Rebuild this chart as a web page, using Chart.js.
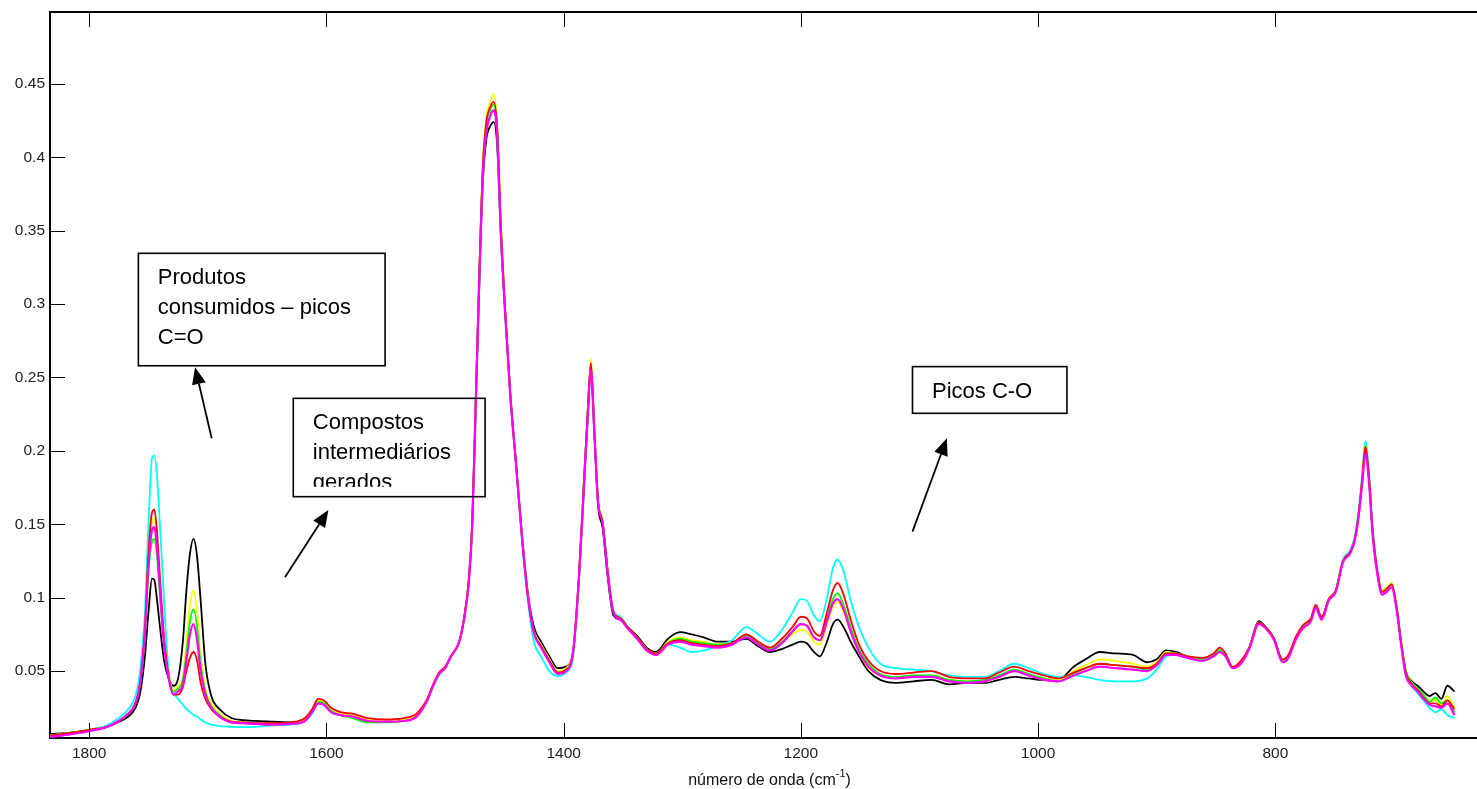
<!DOCTYPE html>
<html>
<head>
<meta charset="utf-8">
<script src="https://cdn.jsdelivr.net/npm/chart.js@4.4.1/dist/chart.umd.min.js"></script>
<style>
  html, body { margin: 0; padding: 0; background: #fff; }
  #spectra { display: block; }
</style>
</head>
<body>
<canvas id="spectra" width="1477" height="789"></canvas>
<script>
// número de onda (cm-1), eixo invertido
var wn = [
  1833, 1815, 1800, 1785, 1775, 1767, 1761, 1757, 1753, 1750, 1747, 1745, 1743, 1740, 1737, 1733, 1729, 1725, 1721, 1718, 1715, 1712, 1709, 1706, 1702, 1697, 1690, 1680,
  1670, 1660, 1645, 1630, 1618, 1612, 1607, 1602, 1596, 1588, 1578, 1565, 1550, 1535, 1524, 1515, 1510, 1505, 1500,
  1495, 1488, 1484, 1480, 1477, 1474, 1471, 1468, 1465, 1462, 1459, 1456, 1453, 1449, 1445, 1440, 1435, 1430, 1425, 1419, 1412, 1405, 1398, 1392, 1387, 1383, 1380, 1377, 1374, 1371, 1367, 1363, 1358, 1352, 1346, 1338, 1330, 1322,
  1312, 1302, 1292, 1282, 1270, 1258, 1246, 1236, 1226, 1216, 1207, 1200, 1195, 1189, 1184, 1178, 1173, 1169, 1164, 1158, 1151, 1143, 1133, 1120, 1105, 1090, 1075, 1060, 1045, 1033, 1020, 1008,
  995, 983, 970, 960, 948, 935, 920, 908, 900, 892, 884, 874, 862, 852, 847, 842, 836, 829, 822, 814, 808, 801, 794, 789, 783, 777, 770, 766, 761, 755, 749, 743, 737, 733, 730, 727, 724, 721, 718, 714, 710, 706, 702, 698, 694, 690, 685, 680, 675, 670, 665, 660, 655, 649
];

// absorbância de cada grupo de amostras
var absPreto = [
  .007, .008, .010, .012, .0155, .019, .025, .035, .06, .09, .113, .112, .1, .078, .058, .045, .04, .045, .07, .105, .13, .14, .128, .098, .055, .033, .024, .018,
  .0165, .016, .0155, .015, .017, .022, .028, .027, .022, .02, .019, .016, .016, .017, .02, .03, .04, .048, .052,
  .06, .07, .085, .11, .15, .232, .315, .385, .413, .421, .424, .408, .348, .29, .238, .19, .142, .102, .08, .07, .06, .052, .053, .064, .113, .172, .218, .253, .21, .163, .147, .115, .088, .085, .08, .074, .066, .063,
  .072, .0765, .075, .073, .07, .07, .072, .067, .063, .065, .068, .07, .069, .063, .06, .07, .082, .085, .08, .07, .06, .05, .044, .042, .043, .044, .041, .042, .042, .044, .046, .045,
  .044, .044, .053, .058, .063, .062, .061, .056, .058, .064, .063, .06, .058, .061, .064, .06, .052, .056, .066, .084, .08, .072, .057, .06, .072, .08, .085, .094, .086, .099, .105, .125, .131, .14, .155, .178, .2, .18, .145, .118, .104, .106, .109, .095, .07, .05, .043, .04, .036, .033, .035, .031, .04, .036
];
var absCiano = [
  .006, .008, .010, .013, .018, .024, .033, .05, .09, .15, .195, .197, .185, .145, .1, .05, .036, .031, .027, .024, .022, .02, .019, .017, .015, .0135, .0125, .012,
  .0118, .012, .013, .0135, .016, .021, .028, .027, .022, .02, .019, .016, .016, .017, .02, .03, .04, .047, .052,
  .06, .07, .085, .11, .15, .235, .32, .39, .418, .428, .432, .415, .35, .29, .238, .19, .138, .097, .07, .06, .05, .0465, .049, .06, .113, .175, .222, .258, .213, .167, .152, .12, .092, .087, .08, .072, .064, .062,
  .068, .066, .063, .064, .067, .071, .08, .075, .07, .078, .09, .099, .098, .088, .084, .1, .12, .126, .118, .098, .08, .066, .055, .052, .051, .05, .047, .046, .046, .05, .055, .052,
  .048, .046, .047, .046, .044, .043, .043, .045, .051, .06, .061, .059, .057, .06, .063, .06, .052, .056, .066, .083, .08, .072, .057, .06, .072, .08, .085, .094, .087, .099, .105, .126, .132, .142, .158, .182, .207, .185, .148, .12, .105, .107, .11, .096, .07, .048, .04, .035, .03, .025, .022, .024, .02, .018
];
var absVermelho = [
  .006, .008, .010, .012, .016, .021, .028, .042, .08, .13, .158, .16, .147, .11, .075, .047, .034, .034, .039, .05, .059, .063, .057, .042, .031, .024, .019, .0155,
  .015, .0145, .0145, .015, .018, .024, .031, .03, .025, .022, .021, .018, .017, .018, .021, .031, .041, .049, .053,
  .06, .07, .086, .112, .152, .237, .323, .395, .425, .434, .438, .42, .355, .292, .24, .19, .14, .1, .076, .067, .057, .049, .051, .063, .116, .177, .222, .26, .213, .166, .151, .119, .09, .086, .08, .073, .065, .062,
  .069, .071, .069, .068, .067, .069, .075, .07, .066, .072, .08, .087, .086, .077, .074, .09, .105, .11, .102, .085, .068, .057, .05, .048, .049, .05, .046, .045, .045, .049, .053, .05,
  .047, .045, .049, .052, .055, .054, .053, .052, .055, .062, .062, .06, .059, .062, .066, .062, .053, .057, .066, .083, .08, .072, .058, .061, .073, .081, .086, .095, .087, .099, .105, .125, .131, .14, .156, .179, .203, .182, .146, .118, .104, .106, .109, .095, .07, .049, .041, .037, .032, .028, .028, .026, .03, .024
];
var absAmarelo = [
  .006, .008, .010, .012, .016, .021, .028, .042, .078, .125, .152, .154, .142, .105, .072, .048, .037, .04, .046, .07, .095, .105, .09, .06, .038, .028, .021, .016,
  .015, .0145, .014, .0145, .017, .023, .03, .029, .024, .021, .02, .017, .016, .017, .02, .03, .04, .048, .052,
  .06, .07, .086, .112, .153, .238, .325, .398, .428, .437, .443, .423, .358, .293, .24, .19, .141, .1, .077, .068, .058, .05, .052, .064, .117, .178, .224, .263, .215, .167, .152, .12, .091, .086, .08, .073, .065, .062,
  .07, .073, .071, .07, .068, .069, .074, .069, .065, .07, .075, .078, .077, .07, .068, .082, .094, .097, .09, .077, .063, .052, .047, .045, .046, .047, .044, .043, .043, .046, .05, .047,
  .045, .044, .05, .054, .058, .057, .055, .053, .056, .063, .062, .06, .058, .061, .064, .061, .052, .056, .066, .083, .08, .072, .057, .06, .072, .08, .085, .094, .086, .099, .105, .125, .131, .14, .156, .179, .204, .182, .146, .119, .105, .107, .11, .096, .071, .05, .042, .038, .033, .03, .03, .027, .033, .025
];
var absVerde = [
  .006, .008, .010, .012, .016, .021, .028, .042, .074, .117, .138, .14, .13, .098, .069, .047, .036, .038, .044, .062, .084, .092, .08, .055, .036, .026, .02, .015,
  .0145, .014, .0135, .014, .016, .022, .029, .028, .023, .02, .018, .015, .015, .016, .019, .03, .04, .048, .052,
  .06, .07, .086, .112, .152, .237, .323, .395, .424, .432, .436, .419, .354, .292, .24, .19, .14, .1, .076, .067, .057, .049, .051, .063, .116, .177, .222, .259, .212, .166, .151, .119, .09, .086, .08, .073, .065, .062,
  .069, .072, .07, .069, .068, .069, .074, .069, .065, .07, .077, .082, .081, .073, .071, .086, .099, .103, .095, .08, .065, .055, .048, .046, .047, .047, .044, .043, .044, .047, .051, .048,
  .045, .043, .048, .052, .055, .054, .053, .051, .055, .062, .062, .06, .058, .061, .064, .06, .052, .056, .066, .083, .08, .072, .057, .06, .072, .08, .085, .094, .086, .099, .105, .125, .131, .14, .156, .179, .203, .182, .146, .118, .104, .106, .109, .095, .07, .05, .042, .038, .034, .029, .032, .028, .03, .022
];
var absMagenta = [
  .005, .007, .009, .012, .016, .021, .028, .042, .076, .122, .146, .148, .136, .102, .069, .045, .034, .036, .041, .057, .075, .082, .071, .05, .034, .025, .019, .015,
  .0145, .014, .0135, .014, .016, .022, .028, .027, .022, .02, .019, .016, .0155, .016, .019, .03, .04, .048, .052,
  .06, .07, .085, .11, .15, .235, .32, .39, .418, .428, .432, .415, .35, .29, .238, .19, .14, .1, .076, .066, .056, .048, .05, .063, .115, .175, .22, .255, .21, .165, .15, .118, .09, .085, .079, .072, .064, .061,
  .068, .07, .068, .067, .066, .068, .073, .068, .064, .069, .077, .082, .081, .073, .071, .084, .096, .099, .092, .077, .063, .053, .047, .045, .046, .046, .043, .042, .043, .046, .05, .047,
  .044, .043, .047, .05, .053, .052, .051, .05, .054, .061, .061, .059, .057, .06, .063, .06, .052, .055, .065, .082, .079, .071, .056, .059, .071, .079, .084, .093, .085, .098, .104, .124, .13, .139, .154, .176, .198, .178, .143, .116, .102, .104, .107, .093, .068, .047, .04, .036, .031, .027, .026, .025, .028, .02
];

var xTicks = [1800, 1600, 1400, 1200, 1000, 800];
var yTicks = [0.05, 0.1, 0.15, 0.2, 0.25, 0.3, 0.35, 0.4, 0.45];

// caixas de texto e setas (em unidades dos eixos)
var notas = [
  { linhas: ['Produtos', 'consumidos \u2013 picos', 'C=O'], caixa: [1758.5, 0.3346, 1550.5, 0.258], de: [1696.7, 0.2086], ate: [1710.7, 0.257] },
  { linhas: ['Compostos', 'intermedi\u00e1rios', 'gerados'], caixa: [1627.9, 0.2358, 1466.2, 0.1688], de: [1634.9, 0.1139], ate: [1598.3, 0.1597] },
  { linhas: ['Picos C-O'], caixa: [1105.9, 0.2574, 975.7, 0.2256], de: [1105.9, 0.145], ate: [1076.9, 0.2086] }
];

var fonte = 'Liberation Sans, Arial, sans-serif';

function serie(vals, cor, larg) {
  return {
    data: wn.map(function(x, i) { return { x: x, y: vals[i] }; }),
    borderColor: cor,
    borderWidth: larg,
    pointRadius: 0,
    fill: false,
    cubicInterpolationMode: 'monotone'
  };
}

var molduraPlugin = {
  id: 'moldura',
  afterDraw: function(chart) {
    var ctx = chart.ctx, a = chart.chartArea, sx = chart.scales.x, sy = chart.scales.y;
    ctx.save();
    ctx.strokeStyle = '#000';
    ctx.lineWidth = 2;
    ctx.beginPath();
    ctx.moveTo(a.left, a.top);
    ctx.lineTo(a.right, a.top);
    ctx.stroke();
    // marcas para dentro
    ctx.lineWidth = 1;
    ctx.beginPath();
    sx.ticks.forEach(function(t) {
      var px = Math.round(sx.getPixelForValue(t.value)) + 0.5;
      ctx.moveTo(px, a.bottom); ctx.lineTo(px, a.bottom - 15);
      ctx.moveTo(px, a.top); ctx.lineTo(px, a.top + 15);
    });
    sy.ticks.forEach(function(t) {
      var py = Math.round(sy.getPixelForValue(t.value)) + 0.5;
      ctx.moveTo(a.left, py); ctx.lineTo(a.left + 15, py);
    });
    ctx.stroke();

    // titulo do eixo x com expoente
    var t1 = 'n\u00famero de onda (cm', t2 = '-1', t3 = ')';
    ctx.fillStyle = '#111';
    ctx.textBaseline = 'alphabetic';
    ctx.font = '16px ' + fonte;
    var w1 = ctx.measureText(t1).width, w3 = ctx.measureText(t3).width;
    ctx.font = '11px ' + fonte;
    var w2 = ctx.measureText(t2).width;
    var cx = (a.left + a.right) / 2 + 6;
    var x0 = cx - (w1 + w2 + w3) / 2, base = 785;
    ctx.font = '16px ' + fonte;
    ctx.fillText(t1, x0, base);
    ctx.font = '11px ' + fonte;
    ctx.fillText(t2, x0 + w1, base - 8);
    ctx.font = '16px ' + fonte;
    ctx.fillText(t3, x0 + w1 + w2, base);
    ctx.restore();
  }
};

var notasPlugin = {
  id: 'notas',
  afterDatasetsDraw: function(chart) {
    var ctx = chart.ctx, sx = chart.scales.x, sy = chart.scales.y;
    ctx.save();
    notas.forEach(function(n) {
      var x1 = sx.getPixelForValue(n.caixa[0]), y1 = sy.getPixelForValue(n.caixa[1]);
      var x2 = sx.getPixelForValue(n.caixa[2]), y2 = sy.getPixelForValue(n.caixa[3]);
      ctx.strokeStyle = '#000';
      ctx.lineWidth = 1.6;
      ctx.strokeRect(x1, y1, x2 - x1, y2 - y1);
      ctx.save();
      ctx.beginPath();
      ctx.rect(x1, y1, x2 - x1, y2 - y1 - 10);
      ctx.clip();
      ctx.fillStyle = '#000';
      ctx.font = '22px ' + fonte;
      ctx.textBaseline = 'alphabetic';
      n.linhas.forEach(function(l, i) {
        ctx.fillText(l, x1 + 19.5, y1 + 31 + i * 29.8);
      });
      ctx.restore();

      // seta
      var ax = sx.getPixelForValue(n.de[0]), ay = sy.getPixelForValue(n.de[1]);
      var bx = sx.getPixelForValue(n.ate[0]), by = sy.getPixelForValue(n.ate[1]);
      var ang = Math.atan2(by - ay, bx - ax), len = 17, half = 7;
      var hx = bx - len * Math.cos(ang), hy = by - len * Math.sin(ang);
      ctx.lineWidth = 1.8;
      ctx.beginPath();
      ctx.moveTo(ax, ay);
      ctx.lineTo(hx, hy);
      ctx.stroke();
      ctx.beginPath();
      ctx.moveTo(bx, by);
      ctx.lineTo(hx + half * Math.sin(ang), hy - half * Math.cos(ang));
      ctx.lineTo(hx - half * Math.sin(ang), hy + half * Math.cos(ang));
      ctx.closePath();
      ctx.fillStyle = '#000';
      ctx.fill();
    });
    ctx.restore();
  }
};

var ctx = document.getElementById('spectra').getContext('2d');
var grafico = new Chart(ctx, {
  type: 'line',
  data: {
    datasets: [
      serie(absMagenta, '#ff00ff', 2.2),
      serie(absVermelho, '#ff0000', 1.8),
      serie(absVerde, '#00ff00', 1.8),
      serie(absAmarelo, '#ffff00', 1.8),
      serie(absCiano, '#00ffff', 1.8),
      serie(absPreto, '#000000', 1.8)
    ]
  },
  options: {
    responsive: false,
    animation: false,
    events: [],
    layout: { padding: { top: 12, right: 0, bottom: 0, left: 0 } },
    plugins: { legend: { display: false }, tooltip: { enabled: false }, title: { display: false } },
    scales: {
      x: {
        type: 'linear',
        reverse: true,
        min: 630,
        max: 1833,
        grid: { display: false },
        border: { display: true, color: '#000', width: 2 },
        ticks: {
          color: '#222',
          font: { family: fonte, size: 15.5 },
          padding: -2,
          maxRotation: 0,
          autoSkip: false,
          callback: function(v) { return String(v); }
        },
        afterBuildTicks: function(s) { s.ticks = xTicks.map(function(v) { return { value: v }; }); },
        afterFit: function(s) { s.height = 51; }
      },
      y: {
        type: 'linear',
        min: 0.0044,
        max: 0.499,
        grid: { display: false },
        border: { display: true, color: '#000', width: 2 },
        ticks: {
          color: '#222',
          font: { family: fonte, size: 15.5 },
          padding: -3,
          autoSkip: false,
          callback: function(v) { return String(+v.toFixed(2)); }
        },
        afterBuildTicks: function(s) { s.ticks = yTicks.map(function(v) { return { value: v }; }); },
        afterFit: function(s) { s.width = 50; }
      }
    }
  },
  plugins: [molduraPlugin, notasPlugin]
});
</script>
</body>
</html>
